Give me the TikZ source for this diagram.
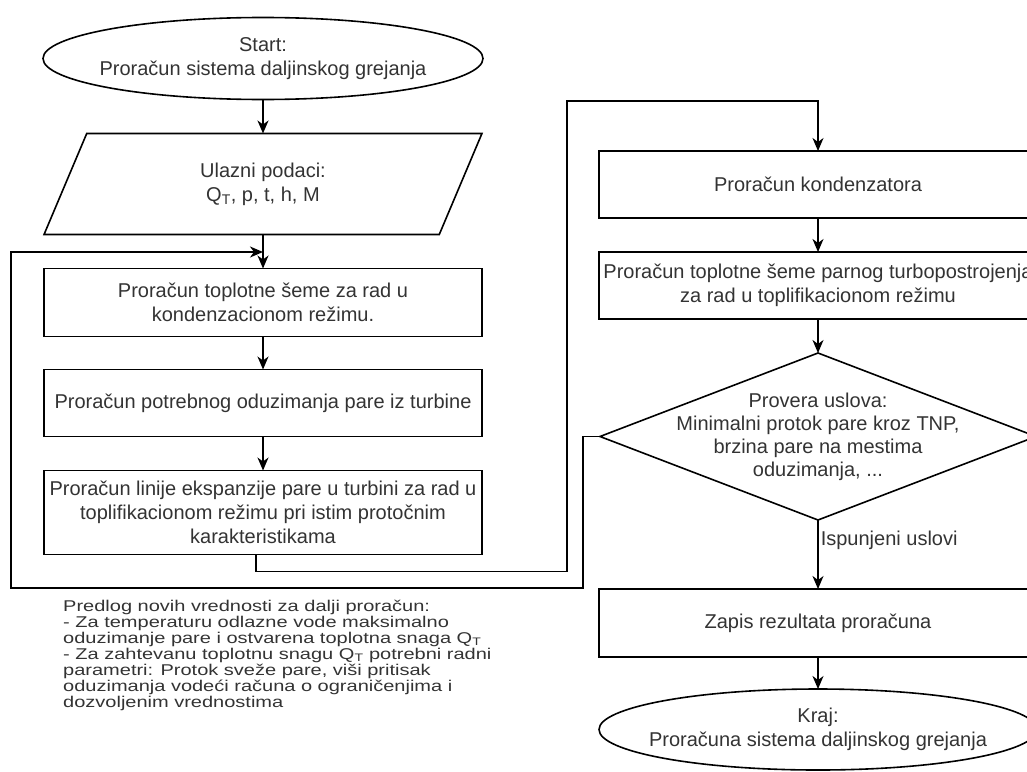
\documentclass[tikz,border=0pt]{standalone}
\usepackage{fontspec}
\setmainfont{Liberation Sans}
\usepackage{graphicx}
\usetikzlibrary{arrows.meta,positioning,shapes.geometric}

\begin{document}
\begin{tikzpicture}[x=1pt, y=-1pt,
        box/.style={draw, line width=1.6pt, text=black!80,
                    font=\fontsize{20}{24}\selectfont, align=center,
                    inner sep=2pt, outer sep=0pt,
                    minimum width=438pt, minimum height=67pt},
        term/.style={box, ellipse, inner xsep=-16pt, inner ysep=0pt,
                     minimum width=440pt, minimum height=82pt},
        datain/.style={box, trapezium, trapezium left angle=71.4,
                       trapezium right angle=108.6, trapezium stretches=true,
                       minimum width=439pt, minimum height=101pt},
        decision/.style={box, diamond, aspect=2.61, font=\fontsize{20}{23}\selectfont,
                         inner xsep=-22pt, inner ysep=-12pt,
                         minimum width=436pt, minimum height=167pt},
        note/.style={text=black!80, font=\fontsize{20}{20}\selectfont,
                     inner sep=0pt, anchor=north west},
        arr/.style={-{Stealth[length=13pt,width=11pt,inset=4pt]}, line width=1.6pt}
      ]
        \useasboundingbox (0,0) rectangle (1027,771);
        \clip (0,0) rectangle (1027,771);

        % left column
        \node[term] (start) at (263,58.5) {Start:\\Proračun sistema daljinskog grejanja};
        \node[datain] (input) [below=34pt of start] {Ulazni podaci:\\Q\textsubscript{T}, p, t, h, M};
        \node[box] (cond) [below=34pt of input, minimum height=68pt]
              {Proračun toplotne šeme za rad u\\kondenzacionom režimu.};
        \node[box] (steam) [below=33pt of cond] {Proračun potrebnog oduzimanja pare iz turbine};
        \node[box] (expan) [below=34pt of steam, minimum height=84pt]
              {Proračun linije ekspanzije pare u turbini za rad u\\toplifikacionom režimu pri istim protočnim\\karakteristikama};
        \draw[arr] (start) -- (input);
        \draw[arr] (input) -- (cond);
        \draw[arr] (cond) -- (steam);
        \draw[arr] (steam) -- (expan);

        % right column
        \node[box] (kond) at (818,184.5) {Proračun kondenzatora};
        \node[box] (topl) [below=34pt of kond]
              {Proračun toplotne šeme parnog turbopostrojenja\\za rad u toplifikacionom režimu};
        \node[decision] (check) [below=34pt of topl]
              {Provera uslova:\\Minimalni protok pare kroz TNP,\\brzina pare na mestima\\oduzimanja, ...};
        \node[box] (zapis) [below=69pt of check, minimum height=68pt] {Zapis rezultata proračuna};
        \node[term] (kraj) [below=32pt of zapis, minimum width=438pt, minimum height=81pt]
              {Kraj:\\Proračuna sistema daljinskog grejanja};
        \draw[arr] (kond) -- (topl);
        \draw[arr] (topl) -- (check);
        \draw[arr] (check) -- node[pos=0.29, anchor=west, inner sep=2pt, text=black!80,
              font=\fontsize{20}{24}\selectfont] {Ispunjeni uslovi} (zapis);
        \draw[arr] (zapis) -- (kraj);

        % links between the columns
        \coordinate (upbend) at (567,101);
        \coordinate (lowbend) at (11,588);
        \coordinate (merge) at (263,252);
        \draw[arr] ([xshift=-7pt]expan.south) -- ++(0,17) -| (upbend) -| (kond.north);
        \draw[arr] (check.west) -- ++(-17,0) |- (lowbend) |- (merge);

        \node[note] (hint) at (63,600) {\scalebox{1}[0.78]{\begin{tabular}{@{}l@{}}
          Predlog novih vrednosti za dalji proračun:\\
          - Za temperaturu odlazne vode maksimalno\\
          oduzimanje pare i ostvarena toplotna snaga Q\textsubscript{T}\\
          - Za zahtevanu toplotnu snagu Q\textsubscript{T} potrebni radni\\
          parametri: Protok sveže pare, viši pritisak\\
          oduzimanja vodeći računa o ograničenjima i\\
          dozvoljenim vrednostima
        \end{tabular}}};
      \end{tikzpicture}
\end{document}
